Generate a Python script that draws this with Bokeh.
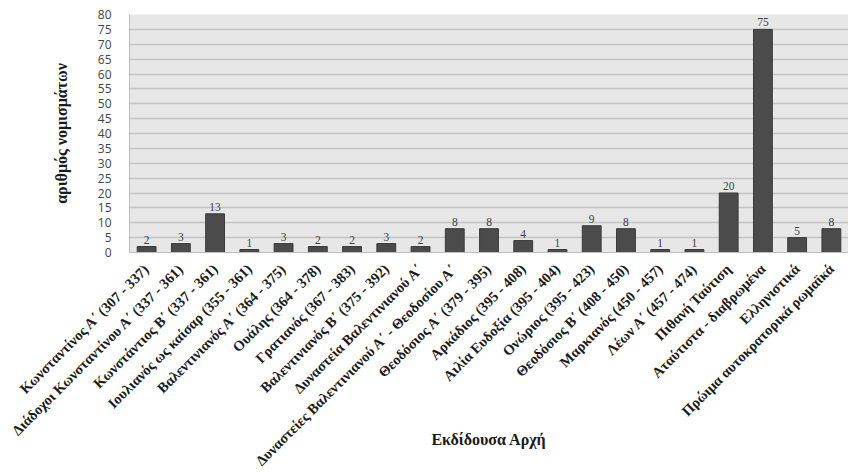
import math
from bokeh.plotting import figure
from bokeh.models import ColumnDataSource, FactorRange, Range1d, FixedTicker, LabelSet
from bokeh.embed import file_html
from bokeh.resources import INLINE

categories = [
    "Κωνσταντίνος Α΄ (307 - 337)",
    "Διάδοχοι Κωνσταντίνου Α΄ (337 - 361)",
    "Κωνστάντιος Β΄ (337 - 361)",
    "Ιουλιανός ως καίσαρ (355 - 361)",
    "Βαλεντινιανός Α΄ (364 - 375)",
    "Ουάλης (364 - 378)",
    "Γρατιανός (367 - 383)",
    "Βαλεντινιανός Β΄ (375 - 392)",
    "Δυναστεία Βαλεντινιανού Α΄",
    "Δυναστείες Βαλεντινιανού Α΄ - Θεοδοσίου Α΄",
    "Θεοδόσιος Α΄ (379 - 395)",
    "Αρκάδιος (395 - 408)",
    "Αιλία Ευδοξία (395 - 404)",
    "Ονώριος (395 - 423)",
    "Θεοδόσιος Β΄ (408 - 450)",
    "Μαρκιανός (450 - 457)",
    "Λέων Α΄ (457 - 474)",
    "Πιθανή Ταύτιση",
    "Αταύτιστα - διαβρωμένα",
    "Ελληνιστικά",
    "Πρώιμα αυτοκρατορικά ρωμαϊκά",
]
counts = [2, 3, 13, 1, 3, 2, 2, 3, 2, 8, 8, 4, 1, 9, 8, 1, 1, 20, 75, 5, 8]
y_ticks = list(range(0, 85, 5))
x_title = "Εκδίδουσα Αρχή"
y_title = "αριθμός νομισμάτων"

source = ColumnDataSource(data=dict(cat=categories, val=counts, txt=[str(v) for v in counts]))

p = figure(
    width=848, height=473,
    x_range=FactorRange(factors=categories, range_padding=0),
    y_range=Range1d(0, 80),
    output_backend="svg", toolbar_location=None,
    min_border_left=129, min_border_right=0, min_border_top=14, min_border_bottom=221,
)
p.background_fill_color = "#e7e7e7"
p.border_fill_color = "white"
p.outline_line_color = None

p.vbar(x="cat", top="val", width=0.55, source=source,
       fill_color="#4b4b4b", line_color="#3a3a3a", line_width=1)

labels = LabelSet(x="cat", y="val", text="txt", source=source,
                  text_align="center", text_baseline="bottom", y_offset=3,
                  text_font="Open Sans", text_font_size="11.5px", text_color="#404040")
p.add_layout(labels)

p.ygrid.ticker = FixedTicker(ticks=y_ticks)
p.ygrid.grid_line_color = "#c4c4c4"
p.ygrid.grid_line_width = 1.5
p.xgrid.grid_line_color = None

p.yaxis.ticker = FixedTicker(ticks=y_ticks)
p.yaxis.axis_line_color = "#bdbdbd"
p.yaxis.major_tick_line_color = None
p.yaxis.minor_tick_line_color = None
p.yaxis.major_label_standoff = 12
p.yaxis.major_label_text_font = "Open Sans"
p.yaxis.major_label_text_font_size = "12px"
p.yaxis.major_label_text_color = "#444444"
p.yaxis.axis_label = y_title
p.yaxis.axis_label_standoff = 25
p.yaxis.axis_label_text_font = "Liberation Serif"
p.yaxis.axis_label_text_font_style = "bold"
p.yaxis.axis_label_text_font_size = "16px"
p.yaxis.axis_label_text_color = "#1a1a1a"

p.xaxis.axis_line_color = "#bdbdbd"
p.xaxis.major_tick_line_color = None
p.xaxis.minor_tick_line_color = None
p.xaxis.major_label_orientation = math.pi / 4
p.xaxis.major_label_standoff = 8
p.xaxis.major_label_text_font = "Liberation Serif"
p.xaxis.major_label_text_font_style = "bold"
p.xaxis.major_label_text_font_size = "14.5px"
p.xaxis.major_label_text_color = "#1a1a1a"
p.xaxis.axis_label = x_title
p.xaxis.axis_label_standoff = -46
p.xaxis.axis_label_text_font = "Liberation Serif"
p.xaxis.axis_label_text_font_style = "bold"
p.xaxis.axis_label_text_font_size = "16px"
p.xaxis.axis_label_text_color = "#1a1a1a"

open("out.html", "w").write(file_html(p, INLINE))
